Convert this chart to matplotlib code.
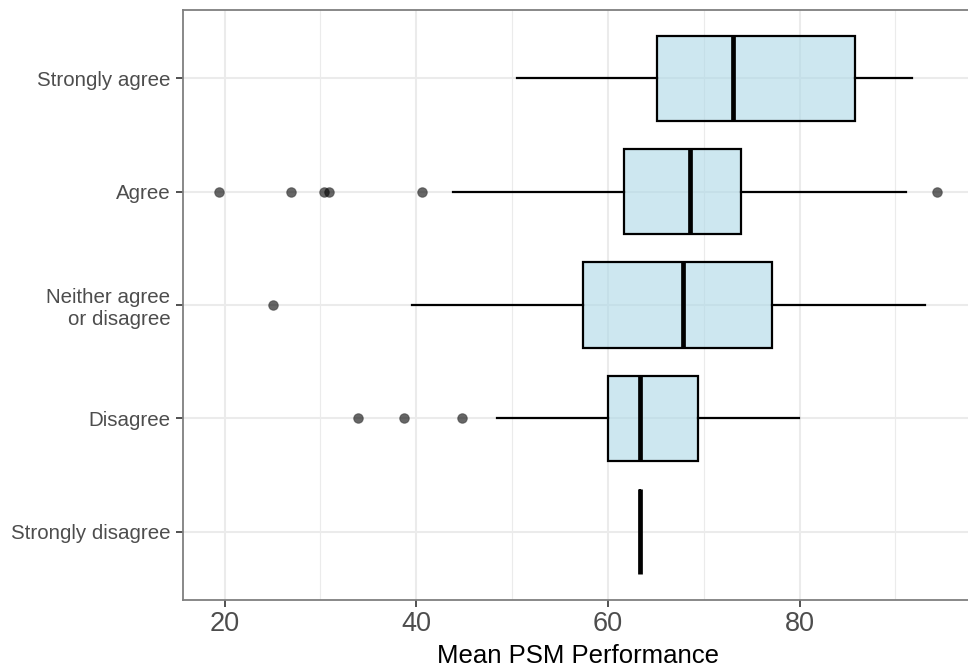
import numpy as np
import matplotlib
matplotlib.use("Agg")
import matplotlib.pyplot as plt
from matplotlib.ticker import MultipleLocator

# categories from bottom to top
categories = ["Strongly disagree", "Disagree", "Neither agree\nor disagree", "Agree", "Strongly agree"]

# box statistics
whislo = [63.3, 48.4, 39.5, 43.8, 50.5]
q1 = [63.3, 60.0, 57.4, 61.7, 65.1]
med = [63.3, 63.3, 67.8, 68.6, 73.1]
q3 = [63.3, 69.4, 77.1, 73.9, 85.8]
whishi = [63.3, 79.9, 93.1, 91.1, 91.7]
fliers = [[], [33.9, 38.7, 44.8], [25.0], [19.4, 26.9, 30.4, 30.9, 40.6, 94.3], []]

plt.rcParams['font.family'] = ['Liberation Sans', 'DejaVu Sans']

fig = plt.figure(figsize=(9.68, 6.71), dpi=100)
ax = fig.add_axes([183/968, 71/671, 790/968, 590/671])

stats = []
for i in range(len(categories)):
    stats.append(dict(whislo=whislo[i], q1=q1[i], med=med[i], q3=q3[i],
                      whishi=whishi[i], fliers=fliers[i]))

ax.bxp(stats, positions=np.arange(1, 6), vert=False, widths=0.75,
       patch_artist=True, showcaps=False,
       boxprops=dict(facecolor=(0.678, 0.847, 0.902, 0.6), edgecolor='black', linewidth=1.6),
       medianprops=dict(color='black', linewidth=3.4, solid_capstyle='butt'),
       whiskerprops=dict(color='black', linewidth=1.6),
       flierprops=dict(marker='o', markersize=7, markerfacecolor=(0, 0, 0, 0.6),
                       markeredgecolor=(0, 0, 0, 0.3), markeredgewidth=0.8),
       zorder=3)

ax.set_xlim(15.65, 98.1)
ax.set_ylim(0.4, 5.6)
ax.xaxis.set_major_locator(MultipleLocator(20))
ax.xaxis.set_minor_locator(MultipleLocator(10))
ax.set_yticks(np.arange(1, 6))
ax.set_yticklabels(categories)

ax.grid(True, which='major', color='#EBEBEB', linewidth=1.5, zorder=0)
ax.grid(True, which='minor', axis='x', color='#EBEBEB', linewidth=0.8, zorder=0)
ax.set_axisbelow(True)
ax.tick_params(which='minor', length=0)
ax.tick_params(axis='both', which='major', length=5, width=1.2, color='#333333')
ax.tick_params(axis='y', labelsize=14.8, labelcolor='#4D4D4D', pad=4)
ax.tick_params(axis='x', labelsize=19.5, labelcolor='#4D4D4D', pad=3)

for s in ax.spines.values():
    s.set_color('#7F7F7F')
    s.set_linewidth(1.3)

ax.set_xlabel('Mean PSM Performance', fontsize=18.5, color='black', labelpad=5)

fig.savefig('out.png', dpi=100)
